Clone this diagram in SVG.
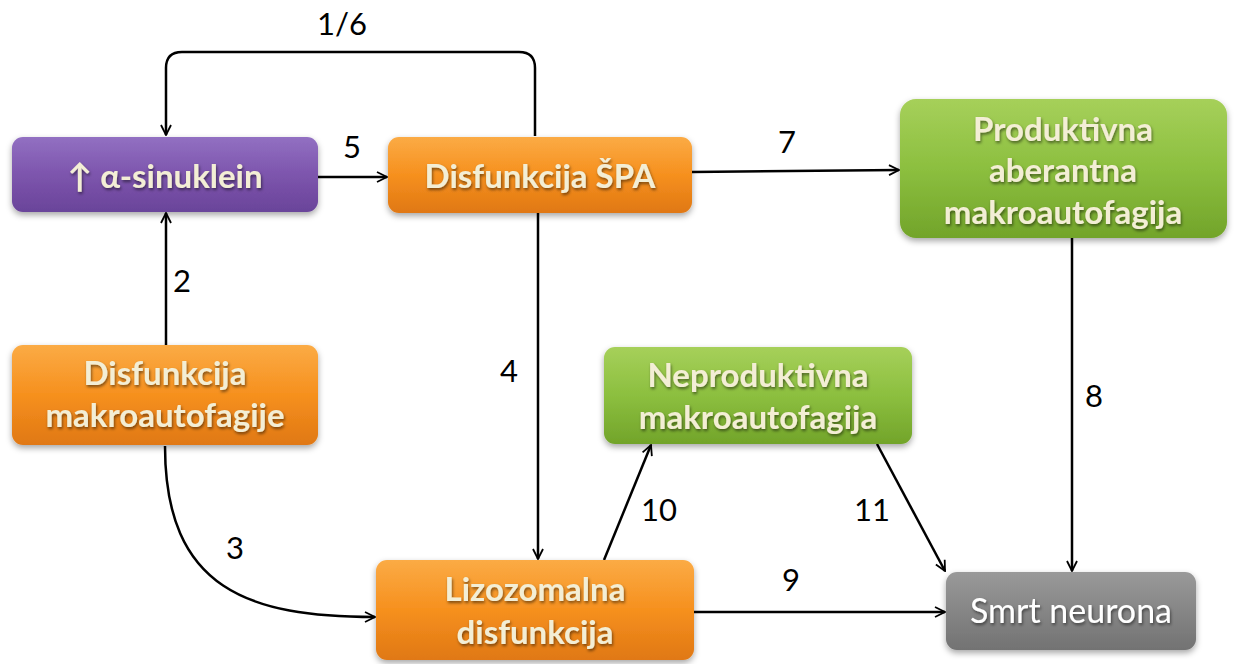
<svg xmlns="http://www.w3.org/2000/svg" width="1239" height="664" viewBox="0 0 1239 664">
<defs>
<linearGradient id="gO" x1="0" y1="0" x2="0" y2="1"><stop offset="0" stop-color="#fbab45"/><stop offset="0.5" stop-color="#f6901e"/><stop offset="1" stop-color="#e07814"/></linearGradient>
<linearGradient id="gP" x1="0" y1="0" x2="0" y2="1"><stop offset="0" stop-color="#9270c2"/><stop offset="0.5" stop-color="#7d55ad"/><stop offset="1" stop-color="#6a449a"/></linearGradient>
<linearGradient id="gG" x1="0" y1="0" x2="0" y2="1"><stop offset="0" stop-color="#a6d05a"/><stop offset="0.5" stop-color="#8cbf3f"/><stop offset="1" stop-color="#72a42a"/></linearGradient>
<linearGradient id="gS" x1="0" y1="0" x2="0" y2="1"><stop offset="0" stop-color="#999999"/><stop offset="0.5" stop-color="#868686"/><stop offset="1" stop-color="#727272"/></linearGradient>
<filter id="sh" x="-10%" y="-10%" width="120%" height="130%"><feDropShadow dx="0" dy="3" stdDeviation="3" flood-color="#000" flood-opacity="0.35"/></filter>
<filter id="tsh" x="-10%" y="-20%" width="120%" height="150%"><feDropShadow dx="1" dy="2" stdDeviation="1.5" flood-color="#000" flood-opacity="0.5"/></filter>
<marker id="ah" viewBox="0 0 12 12" refX="11" refY="6" markerWidth="12" markerHeight="12" markerUnits="userSpaceOnUse" orient="auto">
<path d="M1,1 L11,6 L1,11" fill="none" stroke="#000" stroke-width="1.8"/>
</marker>
</defs>
<style>
.box{stroke:none;filter:url(#sh)}
.t{font-family:Lato,"Open Sans","Liberation Sans",sans-serif;font-weight:bold;font-size:33px;fill:#f3eed5;text-anchor:middle;filter:url(#tsh)}
.tw{font-family:Lato,"Open Sans","Liberation Sans",sans-serif;font-size:34px;fill:#ffffff;text-anchor:middle;filter:url(#tsh)}
.c{fill:none;stroke:#000;stroke-width:2.5;marker-end:url(#ah)}
.lb{font-family:Lato,"Open Sans","Liberation Sans",sans-serif;font-size:31px;fill:#000;text-anchor:middle}
</style>
<g id="connectors">
<path class="c" d="M535,136 L535,68 Q535,52 519,52 L182,52 Q166,52 166,68 L166,135"/>
<path class="c" d="M318,177 L387,177"/>
<path class="c" d="M692,172 L899,170"/>
<path class="c" d="M166,345 L166,213"/>
<path class="c" d="M538,213 L538,559"/>
<path class="c" d="M165,446 C165,590 250,617 375,617"/>
<path class="c" d="M604,560 L651,445"/>
<path class="c" d="M877,444 L945,571"/>
<path class="c" d="M1072,238 L1072,571"/>
<path class="c" d="M694,612 L945,612"/>
</g>
<g id="labels">
<text class="lb" x="342" y="35">1/6</text>
<text class="lb" x="352" y="158">5</text>
<text class="lb" x="787" y="153">7</text>
<text class="lb" x="182" y="292">2</text>
<text class="lb" x="509" y="382">4</text>
<text class="lb" x="235" y="559">3</text>
<text class="lb" x="659" y="521">10</text>
<text class="lb" x="872" y="521">11</text>
<text class="lb" x="1094" y="407">8</text>
<text class="lb" x="791" y="591">9</text>
</g>
<g id="n-asinuklein">
<rect class="box" x="12" y="137" width="306" height="75" rx="11" fill="url(#gP)"/>
<text class="t" x="165" y="188">↑ α-sinuklein</text>
</g>
<g id="n-spa">
<rect class="box" x="388" y="137" width="304" height="76" rx="11" fill="url(#gO)"/>
<text class="t" x="540" y="188">Disfunkcija ŠPA</text>
</g>
<g id="n-produktivna">
<rect class="box" x="900" y="99" width="327" height="139" rx="16" fill="url(#gG)"/>
<text class="t" x="1063" y="141">Produktivna</text>
<text class="t" x="1063" y="182">aberantna</text>
<text class="t" x="1063" y="224">makroautofagija</text>
</g>
<g id="n-makro">
<rect class="box" x="12" y="345" width="306" height="100" rx="11" fill="url(#gO)"/>
<text class="t" x="165" y="385">Disfunkcija</text>
<text class="t" x="165" y="427">makroautofagije</text>
</g>
<g id="n-neproduktivna">
<rect class="box" x="604" y="347" width="308" height="97" rx="11" fill="url(#gG)"/>
<text class="t" x="758" y="387">Neproduktivna</text>
<text class="t" x="758" y="429">makroautofagija</text>
</g>
<g id="n-lizozomalna">
<rect class="box" x="376" y="560" width="318" height="100" rx="11" fill="url(#gO)"/>
<text class="t" x="535" y="601">Lizozomalna</text>
<text class="t" x="535" y="644">disfunkcija</text>
</g>
<g id="n-smrt">
<rect class="box" x="946" y="572" width="250" height="78" rx="11" fill="url(#gS)"/>
<text class="tw" x="1071" y="623">Smrt neurona</text>
</g>
</svg>
